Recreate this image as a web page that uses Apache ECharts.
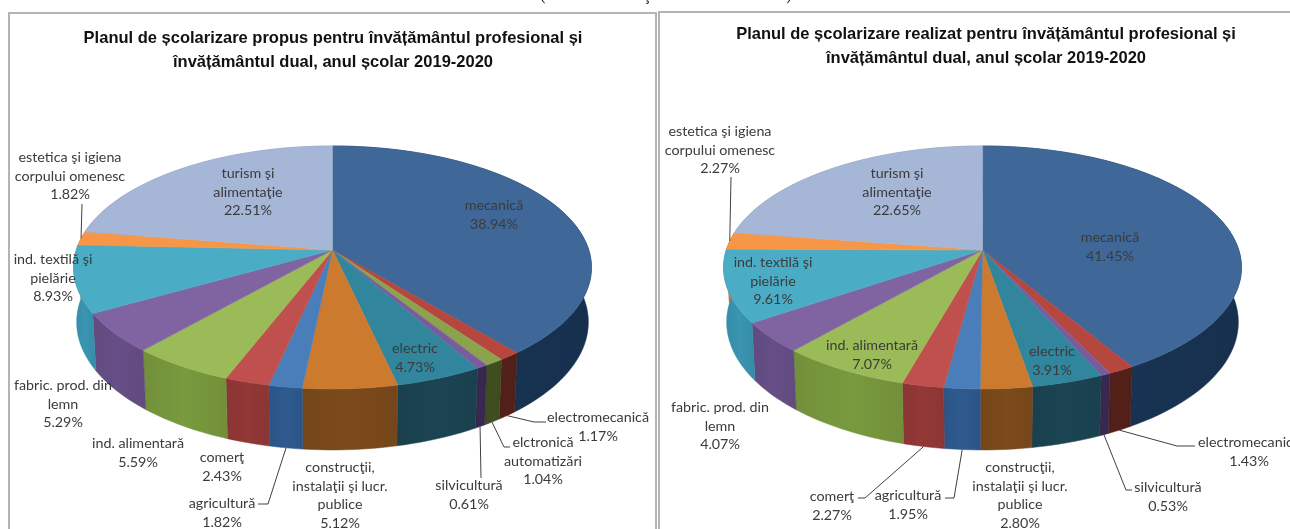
<!DOCTYPE html>
<html>
<head>
<meta charset="utf-8">
<style>
  html, body { margin: 0; padding: 0; background: #fff; }
  #chart { width: 1290px; height: 529px; }
</style>
<script src="https://cdn.jsdelivr.net/npm/echarts@6/dist/echarts.min.js"></script>
</head>
<body>
<div id="chart"></div>
<script>
// date, in sensul acelor de ceasornic de la ora 12
const categoriesPropus = ["mecanică", "electromecanică", "elctronică\nautomatizări", "silvicultură", "electric",
  "construcţii,\ninstalaţii şi lucr.\npublice", "agricultură", "comerţ", "ind. alimentară",
  "fabric. prod. din\nlemn", "ind. textilă şi\npielărie", "estetica şi igiena\ncorpului omenesc", "turism şi\nalimentaţie"];
const valuesPropus = [38.94, 1.17, 1.04, 0.61, 4.73, 5.12, 1.82, 2.43, 5.59, 5.29, 8.93, 1.82, 22.51];

const categoriesRealizat = ["mecanică", "electromecanică", "silvicultură", "electric",
  "construcţii,\ninstalaţii şi lucr.\npublice", "agricultură", "comerţ", "ind. alimentară",
  "fabric. prod. din\nlemn", "ind. textilă şi\npielărie", "estetica şi igiena\ncorpului omenesc", "turism şi\nalimentaţie"];
const valuesRealizat = [41.45, 1.43, 0.53, 3.91, 2.80, 1.95, 2.27, 7.07, 4.07, 9.61, 2.27, 22.65];

const titlePropus = "Planul de școlarizare propus pentru învățământul profesional și\nînvățământul dual, anul școlar 2019-2020";
const titleRealizat = "Planul de școlarizare realizat pentru învățământul profesional și\nînvățământul dual, anul școlar 2019-2020";

// culori: [fata de sus, perete]
const sliceColors = {
  "mecanică": ["#3f6797", "#17304e"],
  "electromecanică": ["#b5473f", "#4f1f18"],
  "elctronică\nautomatizări": ["#8ba34c", "#3d4a1e"],
  "silvicultură": ["#7a5c9e", "#36264c"],
  "electric": ["#31859c", "#1a404e"],
  "construcţii,\ninstalaţii şi lucr.\npublice": ["#cc7a2e", "#74461a"],
  "agricultură": ["#4a7ebb", "#2b5587"],
  "comerţ": ["#c0504d", "#8a3534"],
  "ind. alimentară": ["#9bbb59", "#72903a"],
  "fabric. prod. din\nlemn": ["#8064a2", "#604a7e"],
  "ind. textilă şi\npielărie": ["#4bacc6", "#368ca6"],
  "estetica şi igiena\ncorpului omenesc": ["#f79646", "#c0732f"],
  "turism şi\nalimentaţie": ["#a5b6d6", "#8090b0"]
};

// pozitii etichete (centru x, y prima linie)
const labelPosPropus = [[494, 205], [598, 417], [543, 442], [469, 485], [415, 348], [340, 467], [222, 503],
  [222, 457], [138, 443], [63, 385], [53, 259], [70, 157], [248, 173]];
const labelPosRealizat = [[1110, 237], [1249, 442], [1168, 487], [1052, 351], [1020, 467], [908, 495],
  [832, 496], [872, 345], [720, 407], [773, 262], [720, 131], [897, 173]];

// linii de legatura: index felie, nivel (0 sus, 1 jos), puncte de cot
const leadersPropus = [
  [11, 0, [[82, 204]]],
  [1, 1, [[534, 422], [546, 422]]],
  [2, 1, [[504, 447], [510, 447]]],
  [3, 1, [[481, 478]]],
  [6, 1, [[268, 504], [258, 504]]]
];
const leadersRealizat = [
  [10, 0, [[731, 177]]],
  [1, 1, [[1177, 446], [1195, 446]]],
  [2, 1, [[1126, 490], [1132, 490]]],
  [6, 1, [[865, 498], [858, 498]]],
  [5, 1, [[954, 498], [945, 498]]]
];

const apexY = 250, radX = 256.3, radY = 119, persp = 0.1438, wallT = 54.6, wallE = 0.012;

// punct de pe cerc -> ecran, cu perspectiva ca in graficul 3D din Excel
function project(percent, cx, level) {
  const a = percent / 100 * Math.PI * 2;
  const X = Math.sin(a), Y = -Math.cos(a);
  const w = 1 - persp * Y + wallE * level;
  return [cx + radX * X / w, apexY + (radY * Y + wallT * level) / w];
}

function arc(from, to, cx, level) {
  const n = Math.max(2, Math.ceil((to - from) * 2));
  const pts = [];
  for (let i = 0; i <= n; i++) pts.push(project(from + (to - from) * i / n, cx, level));
  return pts;
}

function cumulate(values) {
  let s = 0;
  return values.map(v => { const r = [s, s + v]; s += v; return r; });
}

function pieSeries(categories, values, cx) {
  const data = cumulate(values);
  return [
    {
      type: "custom", coordinateSystem: "none", z: 1, silent: true, data: data,
      renderItem: (params, api) => {
        const c = sliceColors[categories[params.dataIndex]][1];
        const from = api.value(0), to = api.value(1);
        const pts = arc(from, to, cx, 0).concat(arc(from, to, cx, 1).reverse());
        const fill = new echarts.graphic.LinearGradient(0, 0, 1, 0, [
          { offset: 0, color: c },
          { offset: 0.5, color: echarts.color.lift(c, -0.07) },
          { offset: 1, color: c }
        ]);
        return { type: "polygon", shape: { points: pts }, style: { fill: fill, stroke: c, lineWidth: 0.5 } };
      }
    },
    {
      type: "custom", coordinateSystem: "none", z: 2, silent: true, data: data,
      renderItem: (params, api) => {
        const c = sliceColors[categories[params.dataIndex]][0];
        const pts = [[cx, apexY]].concat(arc(api.value(0), api.value(1), cx, 0));
        return { type: "polygon", shape: { points: pts }, style: { fill: c, stroke: c, lineWidth: 0.5 } };
      }
    }
  ];
}

function labelGraphics(categories, values, positions) {
  return categories.map((name, i) => ({
    type: "text", z: 10, silent: true,
    style: {
      text: name + "\n" + values[i].toFixed(2) + "%",
      x: positions[i][0], y: positions[i][1] - 9,
      fill: "#3b3b3b", font: "14.3px Lato", align: "center", verticalAlign: "top", lineHeight: 18.6
    }
  }));
}

function leaderGraphics(values, leaders, cx) {
  const ranges = cumulate(values);
  return leaders.map(([idx, level, bends]) => {
    const mid = (ranges[idx][0] + ranges[idx][1]) / 2;
    return {
      type: "polyline", z: 9, silent: true,
      shape: { points: [project(mid, cx, level)].concat(bends) },
      style: { stroke: "#404040", lineWidth: 1, fill: null }
    };
  });
}

function frame(x, y, w, h) {
  return { type: "rect", z: 0, silent: true, shape: { x: x, y: y, width: w, height: h },
    style: { fill: "#fff", stroke: "#b4b4b4", lineWidth: 2 } };
}

// resturi din textul documentului, taiate sus
function cutText(t, x) {
  return { type: "text", z: 0, silent: true, style: { text: t, x: x, y: -12, fill: "#111",
    font: "16px 'Liberation Serif'", align: "center", verticalAlign: "top" } };
}

const titleStyle = { fontFamily: "Liberation Sans", fontWeight: "bold", fontSize: 16.5, lineHeight: 24, color: "#111" };

const myChart = echarts.init(document.getElementById("chart"));
myChart.setOption({
  animation: false,
  backgroundColor: "#fff",
  title: [
    { text: titlePropus, left: 333, top: 26, textAlign: "center", textStyle: titleStyle, padding: 0, z: 10 },
    { text: titleRealizat, left: 986, top: 22, textAlign: "center", textStyle: titleStyle, padding: 0, z: 10 }
  ],
  series: pieSeries(categoriesPropus, valuesPropus, 332.5).concat(pieSeries(categoriesRealizat, valuesRealizat, 982.5)),
  graphic: [
    frame(9, 13, 647, 530), frame(659, 12, 650, 530),
    cutText("(", 543), cutText("ţ", 647), cutText(")", 789)
  ].concat(
    leaderGraphics(valuesPropus, leadersPropus, 332.5),
    leaderGraphics(valuesRealizat, leadersRealizat, 982.5),
    labelGraphics(categoriesPropus, valuesPropus, labelPosPropus),
    labelGraphics(categoriesRealizat, valuesRealizat, labelPosRealizat)
  )
});
window.onresize = function () {
  myChart.resize();
};
</script>
</body>
</html>
